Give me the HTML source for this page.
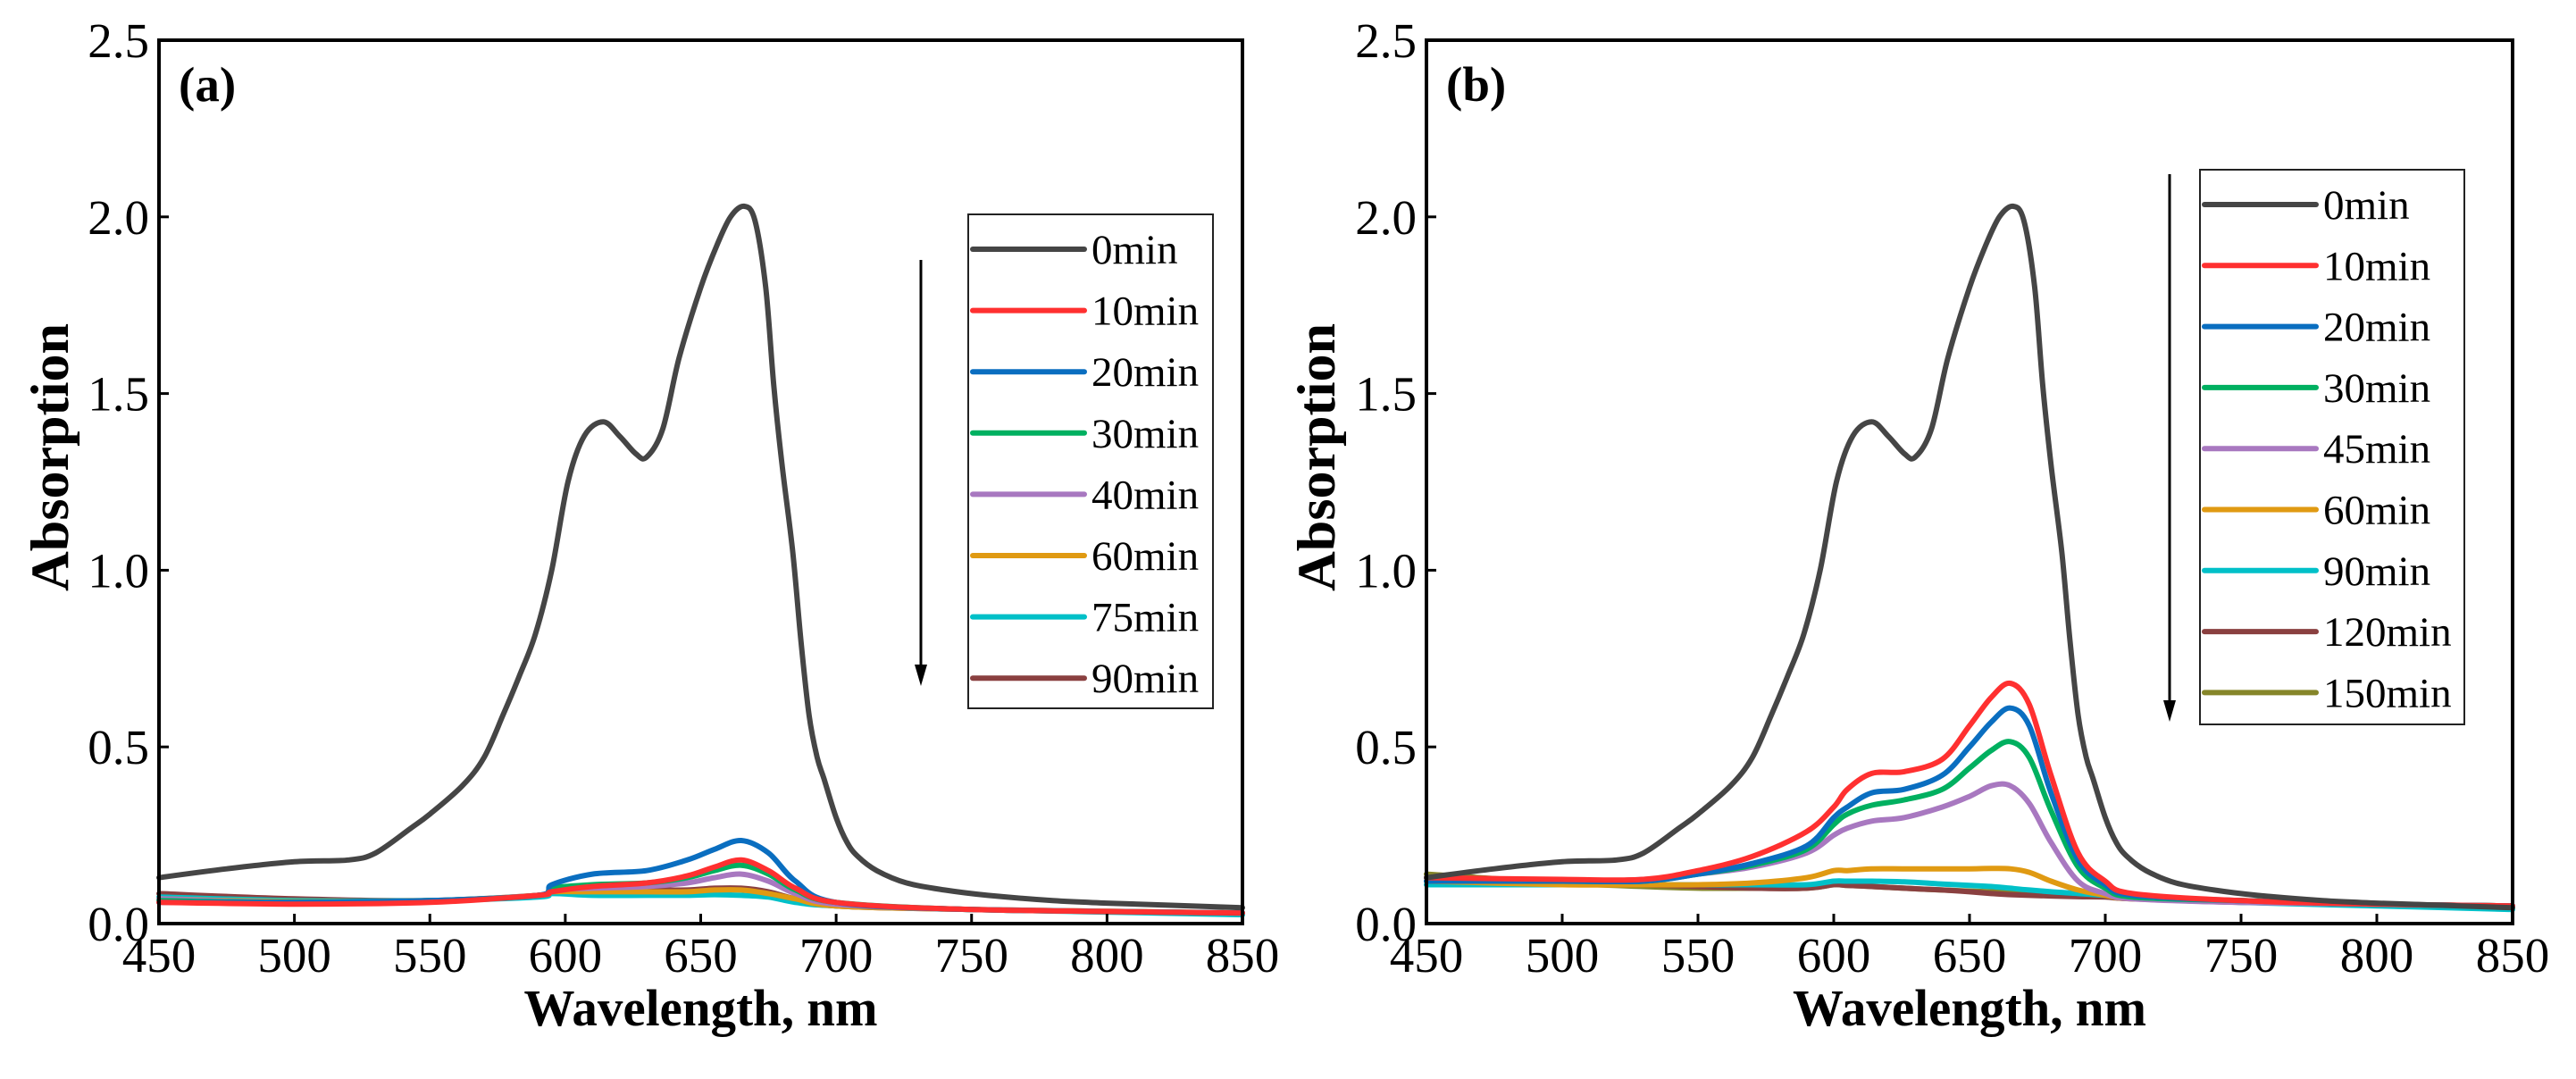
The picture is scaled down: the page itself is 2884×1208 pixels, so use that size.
<!DOCTYPE html>
<html><head><meta charset="utf-8">
<style>
html,body{margin:0;padding:0;background:#fff;}
svg{display:block;}
text{font-family:"Liberation Serif",serif;fill:#000;}
</style></head>
<body>
<svg id="chart" width="2884" height="1208" viewBox="0 0 2884 1208" xmlns="http://www.w3.org/2000/svg">
<rect width="2884" height="1208" fill="#fff"/>
</svg>
<script>
const xTicks = [450,500,550,600,650,700,750,800,850];
const yTicks = [0.0,0.5,1.0,1.5,2.0,2.5];
const yTickLabels = ["0.0","0.5","1.0","1.5","2.0","2.5"];

const labelsA = ["0min","10min","20min","30min","40min","60min","75min","90min"];
const labelsB = ["0min","10min","20min","30min","45min","60min","90min","120min","150min"];
const colorsA = ["#454545","#ff3030","#0a6ec0","#00b060","#a878c0","#e09a12","#00c0c8","#8a4040"];
const colorsB = ["#454545","#ff3030","#0a6ec0","#00b060","#a878c0","#e09a12","#00c0c8","#8a4040","#86862a"];

const wl0 = [450,475,500,520,530,543,550,562,570,577,583,589,595,601,607,614,620,626,630,636,642,650,656,661,666,670,674,677,680,684,687,690,693,695.5,700,704,708,715,726,740,756,780,800,850];
const ab0 = [0.13,0.155,0.175,0.18,0.2,0.27,0.31,0.39,0.47,0.59,0.7,0.82,1.0,1.25,1.38,1.42,1.38,1.33,1.32,1.4,1.6,1.8,1.92,2.0,2.03,1.99,1.8,1.52,1.3,1.05,0.8,0.59,0.47,0.41,0.3,0.23,0.19,0.15,0.115,0.095,0.08,0.065,0.058,0.045];

const wlA = [450,500,550,590,595,610,630,645,655,665,675,685,700,750,850];
const a10 = [0.06,0.055,0.06,0.08,0.09,0.105,0.115,0.135,0.16,0.18,0.15,0.1,0.06,0.04,0.03];
const a20 = [0.06,0.06,0.065,0.08,0.11,0.14,0.15,0.18,0.21,0.235,0.2,0.12,0.06,0.04,0.03];
const a30 = [0.065,0.06,0.065,0.08,0.1,0.11,0.115,0.13,0.15,0.165,0.14,0.095,0.06,0.04,0.03];
const a40 = [0.07,0.06,0.065,0.08,0.095,0.1,0.105,0.115,0.13,0.14,0.12,0.085,0.055,0.04,0.03];
const a60 = [0.07,0.062,0.065,0.08,0.09,0.09,0.09,0.09,0.095,0.095,0.085,0.07,0.05,0.04,0.03];
const a75 = [0.075,0.065,0.065,0.075,0.085,0.08,0.08,0.08,0.082,0.08,0.075,0.06,0.05,0.04,0.025];
const a90 = [0.085,0.07,0.065,0.08,0.095,0.095,0.095,0.095,0.1,0.1,0.09,0.07,0.05,0.04,0.03];

const wlB = [450,500,530,550,570,590,600,605,614,626,640,650,658,665,672,680,690,700,710,750,800,850];
const b10 = [0.13,0.125,0.125,0.15,0.19,0.26,0.33,0.38,0.425,0.43,0.465,0.56,0.64,0.68,0.62,0.42,0.2,0.12,0.085,0.065,0.055,0.05];
const b20 = [0.12,0.12,0.12,0.14,0.17,0.22,0.3,0.33,0.37,0.38,0.42,0.5,0.57,0.61,0.56,0.37,0.18,0.11,0.08,0.065,0.055,0.05];
const b30 = [0.12,0.12,0.12,0.14,0.165,0.21,0.28,0.31,0.335,0.35,0.38,0.44,0.49,0.515,0.47,0.32,0.16,0.1,0.075,0.065,0.055,0.05];
const b45 = [0.13,0.12,0.125,0.14,0.16,0.2,0.25,0.27,0.29,0.3,0.33,0.36,0.39,0.39,0.34,0.23,0.12,0.085,0.07,0.06,0.055,0.05];
const b60 = [0.12,0.11,0.11,0.11,0.115,0.13,0.15,0.15,0.155,0.155,0.155,0.155,0.156,0.155,0.145,0.12,0.095,0.08,0.07,0.065,0.055,0.05];
const b90 = [0.11,0.11,0.11,0.11,0.11,0.11,0.12,0.12,0.12,0.118,0.112,0.108,0.105,0.1,0.095,0.09,0.085,0.08,0.075,0.06,0.05,0.04];
const b120 = [0.13,0.115,0.11,0.105,0.1,0.1,0.11,0.108,0.105,0.1,0.095,0.09,0.085,0.082,0.08,0.078,0.076,0.075,0.07,0.06,0.055,0.05];
const b150 = [0.14,0.115,0.105,0.1,0.1,0.1,0.11,0.108,0.105,0.1,0.095,0.092,0.09,0.088,0.086,0.084,0.082,0.08,0.075,0.065,0.055,0.05];

const NS = "http://www.w3.org/2000/svg";
const svg = document.getElementById('chart');
function mk(tag, attrs, parent){
  const e = document.createElementNS(NS, tag);
  for (const k in attrs) e.setAttribute(k, attrs[k]);
  (parent||svg).appendChild(e);
  return e;
}
function smoothPath(pts){
  let d = 'M' + pts[0][0].toFixed(1) + ' ' + pts[0][1].toFixed(1);
  for (let i=0;i<pts.length-1;i++){
    const p0 = pts[Math.max(0,i-1)], p1 = pts[i], p2 = pts[i+1], p3 = pts[Math.min(pts.length-1,i+2)];
    const c1x = p1[0] + (p2[0]-p0[0])/6, c1y = p1[1] + (p2[1]-p0[1])/6;
    const c2x = p2[0] - (p3[0]-p1[0])/6, c2y = p2[1] - (p3[1]-p1[1])/6;
    d += 'C' + c1x.toFixed(1)+' '+c1y.toFixed(1)+' '+c2x.toFixed(1)+' '+c2y.toFixed(1)+' '+p2[0].toFixed(1)+' '+p2[1].toFixed(1);
  }
  return d;
}

function panel(cfg){
  const g = mk('g', {});
  
  
  const L=cfg.left, R=cfg.right, T=45, B=1034;
  const xs = v => L + (v-450)/400*(R-L);
  const ys = v => B - v/2.5*(B-T);
  const lines = mk('g', {}, g);
  
  
  for (let i=cfg.series.length-1;i>=0;i--){
    const s = cfg.series[i];
    const pts = s.x.map((w,j)=>[xs(w), ys(s.y[j])]);
    const p = mk('path', {d:smoothPath(pts), fill:'none', stroke:cfg.colors[i], 'stroke-width':6, 'stroke-linejoin':'round','stroke-linecap':'round'}, lines);
    
    
  }
  const fr = mk('rect', {x:L, y:T, width:R-L, height:B-T, fill:'none', stroke:'#000', 'stroke-width':4}, g);
  
  
  xTicks.forEach(t=>{
    const x = xs(t);
    const tk = mk('line', {x1:x, x2:x, y1:B, y2:B-11, stroke:'#000', 'stroke-width':3}, g);
    
    
    const tx = mk('text', {x:x, y:1088, 'font-size':55, 'text-anchor':'middle'}, g);
    tx.textContent = String(t);
    
    
  });
  yTicks.forEach((t,i)=>{
    const y = ys(t);
    const tk = mk('line', {x1:L, x2:L+11, y1:y, y2:y, stroke:'#000', 'stroke-width':3}, g);
    
    
    const tx = mk('text', {x:L-11, y:y+19, 'font-size':55, 'text-anchor':'end'}, g);
    tx.textContent = yTickLabels[i];
    
    
  });
  const xt = mk('text', {x:(L+R)/2, y:1148, 'font-size':58, 'font-weight':'bold', 'text-anchor':'middle', textLength:396, lengthAdjust:'spacingAndGlyphs'}, g);
  xt.textContent = 'Wavelength, nm';
  
  
  const yt = mk('text', {x:0, y:0, 'font-size':60, 'font-weight':'bold', 'text-anchor':'middle', transform:'translate('+(cfg.ytx)+',512) rotate(-90)', textLength:300, lengthAdjust:'spacingAndGlyphs'}, g);
  yt.textContent = 'Absorption';
  
  
  const pl = mk('text', {x:L+22, y:113, 'font-size':55, 'font-weight':'bold'}, g);
  pl.textContent = cfg.tag;
  
  
  const lg = mk('g', {}, g);
  
  
  const box = mk('rect', {x:cfg.lx, y:cfg.ly, width:cfg.lw, height:cfg.lh, fill:'#fff', stroke:'#222', 'stroke-width':2}, lg);
  
  
  cfg.labels.forEach((lab,i)=>{
    const y = cfg.ey + i*cfg.es;
    const ln = mk('line', {x1:cfg.lx+5, x2:cfg.lx+130, y1:y, y2:y, stroke:cfg.colors[i], 'stroke-width':6, 'stroke-linecap':'round'}, lg);
    
    
    const tx = mk('text', {x:cfg.lx+138, y:y+16, 'font-size':47}, lg);
    tx.textContent = lab;
    
    
  });
  const ar = mk('line', {x1:cfg.ax, x2:cfg.ax, y1:cfg.ay1, y2:cfg.ay2-20, stroke:'#000', 'stroke-width':3}, g);
  
  
  const ah = mk('path', {d:'M'+(cfg.ax-7)+' '+(cfg.ay2-24)+' L'+(cfg.ax+7)+' '+(cfg.ay2-24)+' L'+cfg.ax+' '+cfg.ay2+' Z', fill:'#000'}, g);
  
  
}

panel({name:'panel-a', tag:'(a)', left:178, right:1391, ytx:76,
  labels:labelsA, colors:colorsA,
  series:[{x:wl0,y:ab0},{x:wlA,y:a10},{x:wlA,y:a20},{x:wlA,y:a30},{x:wlA,y:a40},{x:wlA,y:a60},{x:wlA,y:a75},{x:wlA,y:a90}],
  lx:1084, ly:240, lw:274, lh:553, ey:279, es:68.6, ax:1031, ay1:291, ay2:768});
panel({name:'panel-b', tag:'(b)', left:1597, right:2813, ytx:1494,
  labels:labelsB, colors:colorsB,
  series:[{x:wl0,y:ab0},{x:wlB,y:b10},{x:wlB,y:b20},{x:wlB,y:b30},{x:wlB,y:b45},{x:wlB,y:b60},{x:wlB,y:b90},{x:wlB,y:b120},{x:wlB,y:b150}],
  lx:2463, ly:190, lw:296, lh:621, ey:229, es:68.3, ax:2429, ay1:195, ay2:808});
</script>
</body></html>
